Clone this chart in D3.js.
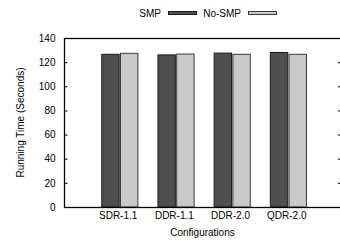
<!DOCTYPE html>
<html>
<head>
<meta charset="utf-8">
<script src="https://cdn.jsdelivr.net/npm/d3@7"></script>
<style>
  body { margin: 0; background: #fff; }
  text { font-family: "Liberation Sans", Arial, sans-serif; fill: #000; }
</style>
</head>
<body>
<svg id="chart" width="340" height="245"></svg>
<script>
const categories = ['SDR-1.1', 'DDR-1.1', 'DDR-2.0', 'QDR-2.0']
const smpValues = [126.5, 126, 127.5, 128]
const noSmpValues = [127.3, 126.7, 126.5, 126.5]
const yTicks = [0, 20, 40, 60, 80, 100, 120, 140]
const seriesNames = ['SMP', 'No-SMP']

const svg = d3.select('#chart')
const margin = { left: 64, top: 38, right: 341, bottom: 207 }

const x = d3.scaleLinear().domain([-1, 3.93]).range([margin.left, margin.right])
const y = d3.scaleLinear().domain([0, 140]).range([margin.bottom, margin.top])
const unit = x(1) - x(0)
const barW = unit * 0.31

const series = [
  { name: seriesNames[0], values: smpValues, fill: '#4f4f4f', stroke: '#1a1a1a', off: -barW - 1 },
  { name: seriesNames[1], values: noSmpValues, fill: '#c9c9c9', stroke: '#3a3a3a', off: 0.3 },
]

// bars
series.forEach(s => {
  svg.append('g').selectAll('rect')
    .data(s.values)
    .join('rect')
    .attr('x', (d, i) => x(i) + s.off)
    .attr('y', d => y(d))
    .attr('width', barW)
    .attr('height', d => y(0) - y(d))
    .attr('fill', s.fill)
    .attr('stroke', s.stroke)
    .attr('stroke-width', 1)
})

// frame
svg.append('rect')
  .attr('x', margin.left + 0.5).attr('y', margin.top + 0.5)
  .attr('width', margin.right - margin.left).attr('height', margin.bottom - margin.top)
  .attr('fill', 'none').attr('stroke', '#000').attr('stroke-width', 1.3)

// y axis (ticks inward on both sides)
const yAxis = d3.axisLeft(y).tickValues(yTicks).tickSize(-3).tickPadding(9)
const gy = svg.append('g').attr('transform', `translate(${margin.left + 0.5},0)`).call(yAxis)
gy.select('.domain').remove()
gy.selectAll('text').style('font-size', '10px').attr('font-family', null)
gy.selectAll('.tick').filter(d => d === 0 || d === 140).select('line').remove()

const gy2 = svg.append('g').attr('transform', `translate(${margin.right - 3},0)`)
  .call(d3.axisRight(y).tickValues(yTicks).tickSize(3).tickFormat(''))
gy2.select('.domain').remove()
gy2.selectAll('.tick').filter(d => d === 0 || d === 140).select('line').remove()

// x labels
svg.append('g').selectAll('text')
  .data(categories)
  .join('text')
  .attr('x', (d, i) => x(i) - 2)
  .attr('y', 219)
  .attr('text-anchor', 'middle')
  .style('font-size', '10px')
  .text(d => d)

svg.append('text')
  .attr('x', x(1.5) - 2).attr('y', 236)
  .attr('text-anchor', 'middle')
  .style('font-size', '10px')
  .text('Configurations')

svg.append('text')
  .attr('transform', `translate(24,${(margin.top + margin.bottom) / 2}) rotate(-90)`)
  .attr('text-anchor', 'middle')
  .style('font-size', '10px')
  .text('Running Time (Seconds)')

// legend
const legend = [
  { name: seriesNames[0], tx: 161, sx: 168, fill: series[0].fill, stroke: series[0].stroke },
  { name: seriesNames[1], tx: 241, sx: 248, fill: series[1].fill, stroke: series[1].stroke },
]
legend.forEach(l => {
  svg.append('text').attr('x', l.tx).attr('y', 17)
    .attr('text-anchor', 'end').style('font-size', '10px').text(l.name)
  svg.append('rect').attr('x', l.sx + 0.5).attr('y', 11.5).attr('width', 28).attr('height', 3)
    .attr('fill', l.fill).attr('stroke', l.stroke)
})
</script>
</body>
</html>
